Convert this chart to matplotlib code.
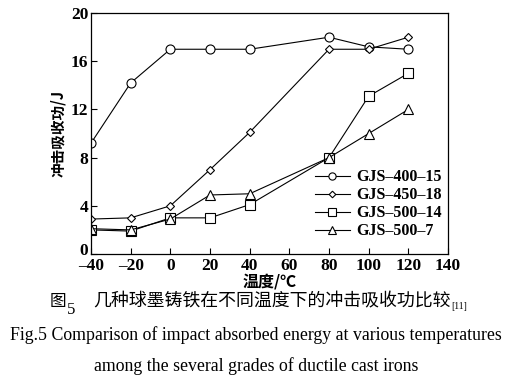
import matplotlib.pyplot as plt
import matplotlib.transforms as mtransforms

temps = [-40, -20, 0, 20, 40, 80, 100, 120]
gjs_400_15 = [9.2, 14.2, 17.0, 17.0, 17.0, 18.0, 17.2, 17.0]
gjs_450_18 = [2.9, 3.0, 4.0, 7.0, 10.1, 17.0, 17.0, 18.0]
gjs_500_14 = [2.0, 1.9, 3.0, 3.0, 4.1, 8.0, 13.1, 15.0]
gjs_500_7 = [2.1, 2.0, 2.9, 4.9, 5.0, 8.0, 10.0, 12.0]
labels = ['GJS\u2013400\u201315', 'GJS\u2013450\u201318', 'GJS\u2013500\u201314', 'GJS\u2013500\u20137']

cjk = ['Noto Sans CJK SC', 'DejaVu Sans']
serif = 'Liberation Serif'

fig = plt.figure(figsize=(5.12, 3.86), dpi=100)
ax = fig.add_axes([0.1777, 0.342, 0.6973, 0.624])

series = [gjs_400_15, gjs_450_18, gjs_500_14, gjs_500_7]
markers = ['o', 'D', 's', '^']
msizes = [6.5, 4.2, 6.5, 6.5]
for vals, m, ms, lab in zip(series, markers, msizes, labels):
    ax.plot(temps, vals, color='black', lw=0.8, marker=m, ms=ms,
            mfc='white', mec='black', mew=0.8, label=lab)

ax.set_xlim(-40, 140)
ax.set_ylim(0, 20)
ax.set_xticks(range(-40, 141, 20))
ax.set_xticklabels(['\u201340', '\u201320', '0', '20', '40', '60', '80', '100', '120', '140'])
ax.set_yticks(range(0, 21, 4))
ax.tick_params(direction='in', length=4, width=0.8, pad=2)
ax.tick_params(axis='x', pad=3)
for t in ax.get_xticklabels() + ax.get_yticklabels():
    t.set_fontfamily(serif)
    t.set_fontweight('bold')
    t.set_fontsize(12.5)
# lift the "0" a little so it clears the "-40" below it
zero = ax.get_yticklabels()[0]
zero.set_transform(zero.get_transform() +
                   mtransforms.ScaledTranslation(0, 5 / 100, fig.dpi_scale_trans))
for s in ax.spines.values():
    s.set_linewidth(0.9)

ax.set_ylabel('冲击吸收功/J', family=cjk, fontsize=10.5, fontweight='bold', labelpad=3)
ax.set_xlabel('温度/℃', family=cjk, fontsize=11.5, fontweight='bold', labelpad=0)

leg = ax.legend(loc='lower right', bbox_to_anchor=(1.0, 0.035), frameon=False,
                prop={'family': serif, 'weight': 'bold', 'size': 11.5},
                handlelength=2.2, handletextpad=0.4, labelspacing=0.12,
                borderaxespad=0, markerscale=0.8)

fig.text(0.096, 0.218, '图', family=cjk, fontsize=12, va='center')
fig.text(0.131, 0.197, '5', family=serif, fontsize=12, va='center')
fig.text(0.182, 0.218, '几种球墨铸铁在不同温度下的冲击吸收功比较', family=cjk,
         fontsize=12.9, va='center')
fig.text(0.881, 0.207, '[11]', family=serif, fontsize=7, va='center')

fig.text(0.5, 0.119, 'Fig.5 Comparison of impact absorbed energy at various temperatures',
         family=serif, fontsize=12.8, ha='center', va='baseline')
fig.text(0.5, 0.040, 'among the several grades of ductile cast irons',
         family=serif, fontsize=12.8, ha='center', va='baseline')

fig.savefig('out.png', dpi=100)
